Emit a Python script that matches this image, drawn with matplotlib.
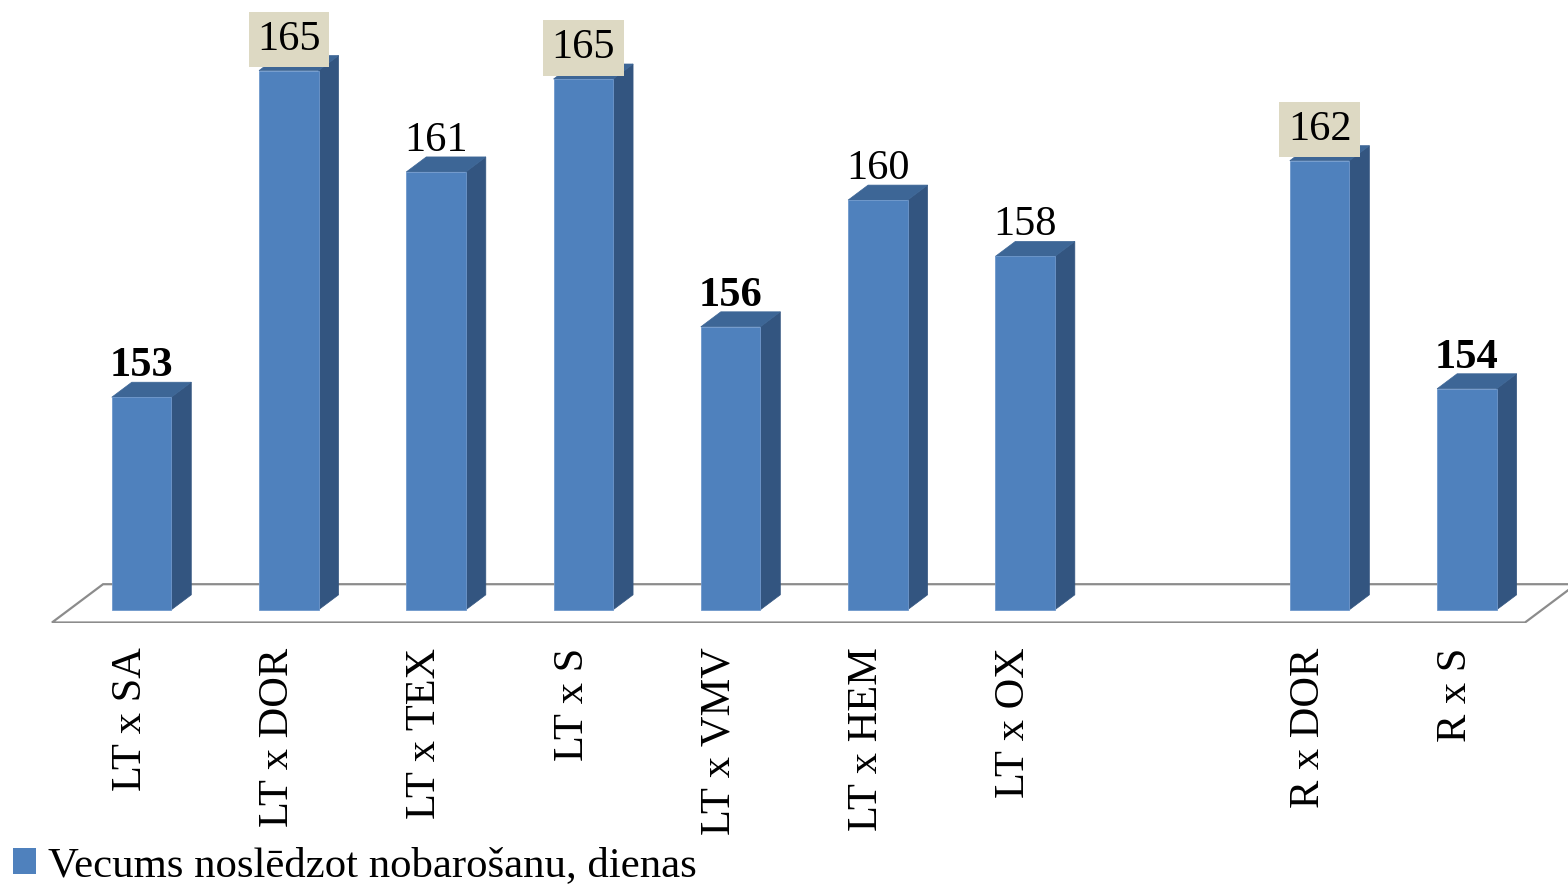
import numpy as np
import matplotlib
matplotlib.use("Agg")
import matplotlib.pyplot as plt
from matplotlib.patches import Polygon, Patch
from matplotlib.transforms import ScaledTranslation

# ---------------- data ----------------
categories = ["LT x SA", "LT x DOR", "LT x TEX", "LT x S", "LT x VMV",
              "LT x HEM", "LT x OX", "", "R x DOR", "R x S"]
values = [153.0, 164.6, 161.0, 164.3, 155.5, 160.0, 158.0, np.nan, 161.4, 153.3]
value_labels = ["153", "165", "161", "165", "156", "160", "158", "", "162", "154"]
legend_label = "Vecums noslēdzot nobarošanu, dienas"

# ---------------- style ----------------
FONT = ["Liberation Serif", "DejaVu Serif"]
FS = 30.5
FRONT = "#4F81BD"
SIDE = "#335580"
TOP = "#3D6696"
BOXC = "#DDD9C3"
FLOORC = "#8C8C8C"

plt.rcParams["font.family"] = FONT

fig = plt.figure(figsize=(15.68, 8.89), dpi=100)
ax = fig.add_axes([0, 266.5 / 889, 1, 622.5 / 889])
ax.set_xlim(-0.961, 9.687)
ax.set_ylim(145.0, 167.106)

base = 145.45      # value axis minimum (bar bottoms)
w = 0.404          # bar width in category units
ddx = 0.136        # depth offset x (category units)
ddy = 0.533        # depth offset y (value units)

x = np.arange(len(categories))
vals = np.array(values, dtype=float)
valid = ~np.isnan(vals)

# floor
floor = Polygon([(-0.608, 145.0), (-0.261, 146.36), (9.742, 146.36), (9.395, 145.0)],
                closed=True, facecolor="white", edgecolor=FLOORC, lw=1.6, zorder=1)
ax.add_patch(floor)

# bars (front faces)
ax.bar(x[valid], vals[valid] - base, bottom=base, width=w, color=FRONT,
       edgecolor="#6F98CC", linewidth=0.6, zorder=3, label=legend_label)

# side and top faces
for xi, v in zip(x[valid], vals[valid]):
    r = xi + w / 2
    l = xi - w / 2
    ax.add_patch(Polygon([(r, base), (r + ddx, base + ddy), (r + ddx, v + ddy), (r, v)],
                         closed=True, facecolor=SIDE, edgecolor=SIDE, lw=0.5, zorder=2))
    ax.add_patch(Polygon([(l, v), (l + ddx, v + ddy), (r + ddx, v + ddy), (r, v)],
                         closed=True, facecolor=TOP, edgecolor=TOP, lw=0.5, zorder=2))

# value labels: three lowest bold, three highest boxed
order = np.argsort(np.where(valid, vals, np.inf))
lowest = set(order[:3].tolist())
order_hi = np.argsort(np.where(valid, -vals, np.inf))
highest = set(order_hi[:3].tolist())

for i in np.where(valid)[0]:
    kw = dict(ha="center", va="baseline", fontsize=FS, zorder=5,
              xytext=(0, 4.3), textcoords="offset points")
    if i in lowest:
        kw["fontweight"] = "bold"
    if i in highest:
        kw["bbox"] = dict(boxstyle="square,pad=0.2", facecolor=BOXC, edgecolor="none")
    ax.annotate(value_labels[i], xy=(x[i], vals[i] + ddy), **kw)

# category tick labels
ax.set_xticks(x[valid], [categories[i] for i in np.where(valid)[0]],
              rotation=90, fontsize=FS)
ax.tick_params(axis="x", length=0, pad=18)
ax.set_yticks([])
for s in ax.spines.values():
    s.set_visible(False)
shift = ScaledTranslation(-11 / 100, 0, fig.dpi_scale_trans)
for lab in ax.get_xticklabels():
    lab.set_transform(lab.get_transform() + shift)

# legend
fig.legend(handles=[Patch(facecolor=FRONT, edgecolor="none")], labels=[legend_label],
           loc="lower left", bbox_to_anchor=(0.008, 0.004), frameon=False,
           fontsize=30.8, handlelength=0.56, handleheight=0.56, handletextpad=0.28,
           borderpad=0, borderaxespad=0)

fig.savefig("out.png", dpi=100)
